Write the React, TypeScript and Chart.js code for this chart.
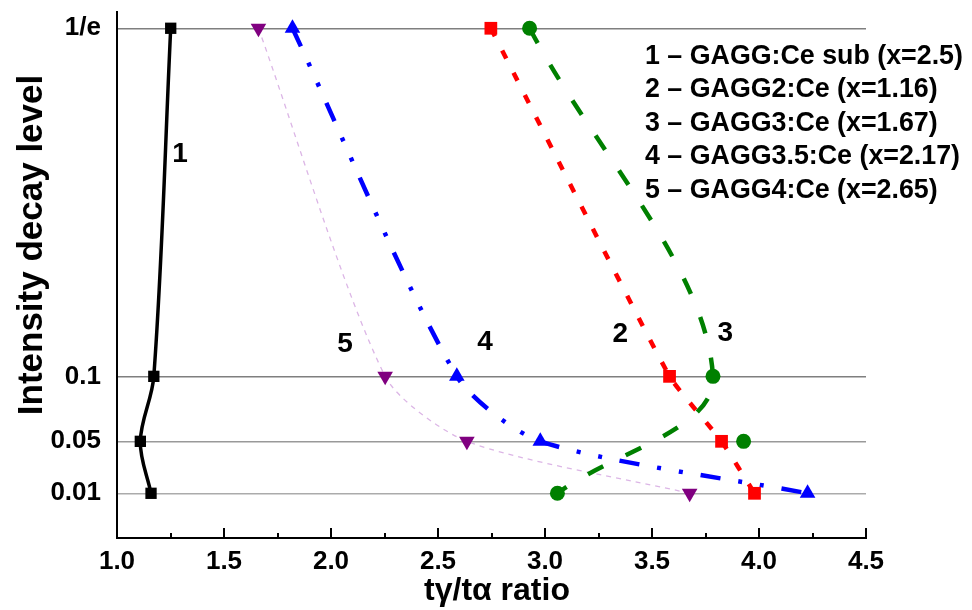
import React, { useEffect, useRef } from 'react';
import { Chart, registerables } from 'chart.js';

Chart.register(...registerables);

const FONT = "'Liberation Sans', Arial, Helvetica, sans-serif";

// Intensity decay levels (y) and their tick labels
const levelLabels = ['1/e', '0.1', '0.05', '0.01'];
const levelValues = [1 / Math.E, 0.1, 0.05, 0.01];

// x tick values (tγ/tα ratio)
const xTickValues = [1.0, 1.5, 2.0, 2.5, 3.0, 3.5, 4.0, 4.5];

// tγ/tα ratio at each level (order: 1/e, 0.1, 0.05, 0.01)
const s1Ratio = [1.251, 1.172, 1.109, 1.159];
const s2Ratio = [2.747, 3.582, 3.825, 3.979];
const s3Ratio = [2.928, 3.785, 3.928, 3.058];
const s4Ratio = [1.820, 2.588, 2.978, 4.227];
const s5Ratio = [1.661, 2.253, 2.635, 3.676];

// the smoothed curve of series 3 bypasses its 0.05 point
const s3CurveIdx = [0, 1, 3];

const seriesNames = [
  '1 – GAGG:Ce sub (x=2.5)',
  '2 – GAGG2:Ce (x=1.16)',
  '3 – GAGG3:Ce (x=1.67)',
  '4 – GAGG3.5:Ce (x=2.17)',
  '5 – GAGG4:Ce (x=2.65)',
];
const curveNumbers = ['1', '2', '3', '4', '5'];

const pts = (xs: number[]) => xs.map((x, i) => ({ x, y: levelValues[i] }));

export default function App() {
  const ref = useRef<HTMLCanvasElement>(null);

  useEffect(() => {
    const canvas = ref.current;
    if (!canvas) return;

    // curve-number label anchors (data coordinates)
    const numberAnchors = [
      { x: 1.295, y: 0.2727 },
      { x: 3.352, y: 0.1341 },
      { x: 3.842, y: 0.1349 },
      { x: 2.72, y: 0.128 },
      { x: 2.066, y: 0.1265 },
    ];

    const overlay = {
      id: 'overlay',
      afterDraw(chart: any) {
        const { ctx, chartArea, scales } = chart;
        const xs = scales.x;
        const ys = scales.y;
        ctx.save();
        // inward x ticks
        ctx.strokeStyle = '#000';
        ctx.lineWidth = 2;
        for (let i = 0; i <= 14; i++) {
          const v = 1 + i * 0.25;
          const px = Math.round(xs.getPixelForValue(v));
          const len = i % 2 === 0 ? 10 : 5;
          ctx.beginPath();
          ctx.moveTo(px, chartArea.bottom);
          ctx.lineTo(px, chartArea.bottom - len);
          ctx.stroke();
        }
        // curve numbers
        ctx.fillStyle = '#000';
        ctx.font = `bold 28px ${FONT}`;
        ctx.textAlign = 'center';
        ctx.textBaseline = 'alphabetic';
        curveNumbers.forEach((t, i) => {
          const a = numberAnchors[i];
          ctx.fillText(t, xs.getPixelForValue(a.x), ys.getPixelForValue(a.y) + 10);
        });
        // legend text
        ctx.font = `bold 26.8px ${FONT}`;
        ctx.textAlign = 'left';
        seriesNames.forEach((t, i) => {
          ctx.fillText(t, 645, 63.5 + i * 33.5);
        });
        // y title
        ctx.font = `bold 35px ${FONT}`;
        ctx.textAlign = 'center';
        ctx.translate(42, 245);
        ctx.rotate(-Math.PI / 2);
        ctx.fillText('Intensity decay level', 0, 0);
        ctx.restore();
        // x title
        ctx.save();
        ctx.fillStyle = '#000';
        ctx.font = `bold 32px ${FONT}`;
        ctx.textAlign = 'center';
        ctx.textBaseline = 'alphabetic';
        ctx.fillText('tγ/tα ratio', 497, 600);
        ctx.restore();
      },
    };

    const lineDs = (data: any[], color: string, width: number, dash: number[], tension: number, order: number) => ({
      data,
      borderColor: color,
      backgroundColor: color,
      borderWidth: width,
      borderDash: dash,
      borderCapStyle: 'butt',
      tension,
      pointRadius: 0,
      pointHoverRadius: 0,
      fill: false,
      order,
    });
    const markDs = (data: any[], color: string, style: string, radius: number, rotation = 0) => ({
      data,
      showLine: false,
      borderColor: color,
      backgroundColor: color,
      pointBackgroundColor: color,
      pointBorderColor: color,
      pointBorderWidth: 0,
      pointStyle: style,
      pointRadius: radius,
      pointHoverRadius: radius,
      pointRotation: rotation,
      order: 0,
    });

    const s3Curve = s3CurveIdx.map((i) => ({ x: s3Ratio[i], y: levelValues[i] }));

    const chart = new Chart(canvas, {
      type: 'line',
      data: {
        datasets: [
          lineDs(pts(s5Ratio), '#dcb6e6', 1.3, [5, 5], 0.25, 10),
          lineDs(pts(s2Ratio), '#ff0000', 4.5, [9, 16], 0.15, 9),
          lineDs(s3Curve, '#008000', 4.5, [17, 25], 0.35, 8),
          lineDs(pts(s4Ratio), '#0000ff', 4.5, [20, 18, 4, 18, 4, 18], 0.25, 7),
          lineDs(pts(s1Ratio), '#000000', 3.5, [], 0.35, 6),
          markDs(pts(s5Ratio), '#800080', 'triangle', 9, 180),
          markDs(pts(s4Ratio), '#0000ff', 'triangle', 9),
          markDs(pts(s3Ratio), '#008000', 'circle', 7.5),
          markDs(pts(s2Ratio), '#ff0000', 'rect', 9),
          markDs(pts(s1Ratio), '#000000', 'rect', 8),
        ] as any,
      },
      options: {
        responsive: false,
        animation: false,
        events: [],
        layout: { padding: { left: 0, top: 12, right: 106, bottom: 0 } },
        plugins: {
          legend: { display: false },
          tooltip: { enabled: false },
        },
        scales: {
          x: {
            type: 'linear',
            min: 1.0,
            max: 4.5,
            afterFit: (s: any) => {
              s.height = 72;
              s.paddingLeft = 0;
              s.paddingRight = 0;
            },
            afterBuildTicks: (s: any) => { s.ticks = xTickValues.map((v) => ({ value: v })); },
            grid: { display: false, drawTicks: false },
            border: { display: true, color: '#000', width: 2 },
            ticks: {
              color: '#000',
              padding: 8,
              font: { family: FONT, size: 26, weight: 'bold' },
              callback: (v: any) => Number(v).toFixed(1),
            },
          },
          y: {
            type: 'linear',
            min: -0.0244,
            max: 0.3804,
            afterFit: (s: any) => {
              s.width = 117;
              s.paddingTop = 0;
              s.paddingBottom = 0;
            },
            afterBuildTicks: (s: any) => { s.ticks = levelValues.map((v) => ({ value: v })); },
            grid: {
              display: true,
              drawTicks: false,
              lineWidth: 1.4,
              color: (c: any) => {
                const v = c.tick ? c.tick.value : 0;
                if (v < 0.02) return '#ababab';
                if (v < 0.07) return '#999999';
                return '#7f7f7f';
              },
            },
            border: { display: true, color: '#000', width: 2 },
            ticks: {
              color: '#000',
              padding: 16,
              font: { family: FONT, size: 26, weight: 'bold' },
              callback: (v: any) => {
                const i = levelValues.findIndex((l) => Math.abs(l - Number(v)) < 1e-6);
                return i >= 0 ? levelLabels[i] : '';
              },
            },
          },
        },
      },
      plugins: [overlay],
    } as any);

    return () => chart.destroy();
  }, []);

  return (
    <div style={{ position: 'fixed', left: 0, top: 0, width: 972, height: 610, background: '#fff' }}>
      <canvas ref={ref} width={972} height={610} style={{ display: 'block' }} />
    </div>
  );
}
